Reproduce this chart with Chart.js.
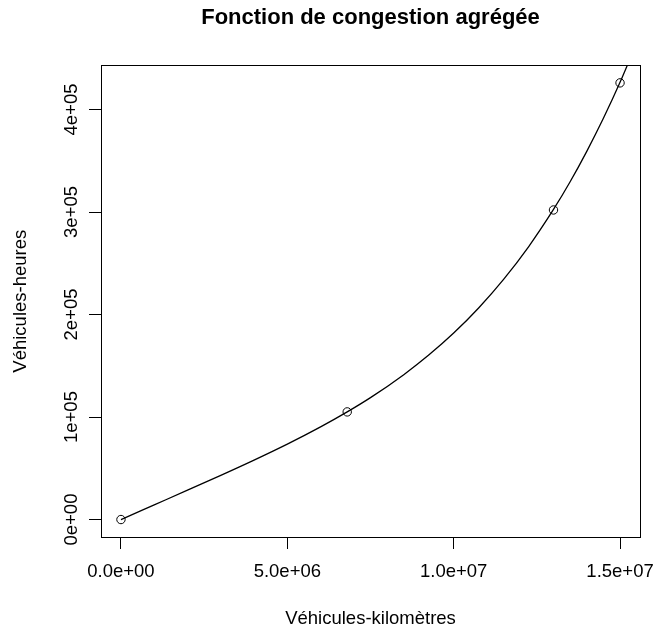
<!DOCTYPE html>
<html>
<head>
<meta charset="utf-8">
<title>Fonction de congestion agrégée</title>
<script src="https://cdn.jsdelivr.net/npm/chart.js@4/dist/chart.umd.min.js"></script>
<style>
    body { margin: 0; background: #fff; }
    #congestion-chart { display: block; }
</style>
</head>
<body>
<canvas id="congestion-chart" width="655" height="631"></canvas>
<script>
/*data*/
let pointsX = [0, 6.8e6, 1.3e7, 1.5e7];
let pointsY = [0, 105000, 302000, 426000];

// readings taken along the drawn curve
let curveX = [0, 1e6, 2e6, 3e6, 4e6, 5e6, 6e6, 6.8e6, 7.5e6, 8.5e6, 9.25e6, 1e7,
    1.075e7, 1.15e7, 1.225e7, 1.3e7, 1.35e7, 1.4e7, 1.45e7, 1.5e7, 1.56e7];
let curveY = [0, 14300, 28600, 43100, 58000, 73600, 90400, 105000, 118900, 141300, 160400, 181900,
    206400, 234300, 266100, 302500, 329500, 359200, 391400, 426500, 472900];

let xTicks = [0, 5e6, 1e7, 1.5e7];
let yTicks = [0, 1e5, 2e5, 3e5, 4e5];

let chartTitle = 'Fonction de congestion agrégée';
let xTitle = 'Véhicules-kilomètres';
let yTitle = 'Véhicules-heures';
/**/

let fontFamily = '"Liberation Sans", Arial, Helvetica, sans-serif';

// R-style range: data range widened by 4% on each side
function paddedRange(values) {
    let lo = Math.min(...values);
    let hi = Math.max(...values);
    let pad = (hi - lo) * 0.04;
    return [lo - pad, hi + pad];
}

function rExp(value, digits) {
    return value.toExponential(digits).replace(/e([+-])(\d)$/, 'e$10$2');
}

let xRange = paddedRange(pointsX);
let yRange = paddedRange(pointsY);

let frameBox = {
    id: 'frameBox',
    afterDraw(chart) {
        let a = chart.chartArea;
        let ctx = chart.ctx;
        ctx.save();
        ctx.strokeStyle = '#000';
        ctx.lineWidth = 1;
        ctx.strokeRect(Math.round(a.left) + 0.5, Math.round(a.top) + 0.5,
            Math.round(a.right - a.left), Math.round(a.bottom - a.top));
        ctx.restore();
    }
};

window.onload = function() {
    let canvas = document.getElementById('congestion-chart');

    new Chart(canvas, {
        type: 'scatter',
        data: {
            datasets: [{
                label: 'courbe',
                data: curveX.map((x, i) => ({x: x, y: curveY[i]})),
                showLine: true,
                cubicInterpolationMode: 'monotone',
                borderColor: '#000',
                borderWidth: 1.3,
                pointRadius: 0,
                fill: false
            }, {
                label: 'points',
                data: pointsX.map((x, i) => ({x: x, y: pointsY[i]})),
                showLine: false,
                pointStyle: 'circle',
                pointRadius: 4.2,
                pointBorderWidth: 1,
                pointBorderColor: '#000',
                pointBackgroundColor: 'rgba(0,0,0,0)'
            }]
        },
        options: {
            responsive: false,
            animation: false,
            devicePixelRatio: 1,
            layout: {
                autoPadding: false,
                padding: {left: 0, right: 15, top: 0, bottom: 0}
            },
            plugins: {
                legend: {display: false},
                tooltip: {enabled: false},
                title: {
                    display: true,
                    text: chartTitle,
                    fullSize: false,
                    color: '#000',
                    font: {family: fontFamily, size: 22, weight: 'bold'},
                    padding: {top: 5, bottom: 34}
                }
            },
            scales: {
                x: {
                    type: 'linear',
                    min: xRange[0],
                    max: xRange[1],
                    afterBuildTicks: scale => { scale.ticks = xTicks.map(v => ({value: v})); },
                    afterFit: scale => {
                        scale.height = 94;
                        scale.paddingLeft = 0;
                        scale.paddingRight = 0;
                    },
                    grid: {
                        drawOnChartArea: false,
                        drawTicks: true,
                        tickLength: 12,
                        tickColor: '#000',
                        tickWidth: 1
                    },
                    border: {display: true, color: '#000', width: 1},
                    ticks: {
                        color: '#000',
                        font: {family: fontFamily, size: 18.5},
                        padding: 12,
                        maxRotation: 0,
                        callback: v => rExp(v, 1)
                    },
                    title: {
                        display: true,
                        text: xTitle,
                        color: '#000',
                        font: {family: fontFamily, size: 18.5},
                        padding: {top: 0, bottom: 1}
                    }
                },
                y: {
                    type: 'linear',
                    min: yRange[0],
                    max: yRange[1],
                    afterBuildTicks: scale => { scale.ticks = yTicks.map(v => ({value: v})); },
                    afterFit: scale => {
                        scale.width = 101;
                        scale.paddingTop = 0;
                        scale.paddingBottom = 0;
                    },
                    grid: {
                        drawOnChartArea: false,
                        drawTicks: true,
                        tickLength: 12,
                        tickColor: '#000',
                        tickWidth: 1
                    },
                    border: {display: true, color: '#000', width: 1},
                    ticks: {
                        color: '#000',
                        font: {family: fontFamily, size: 18.5},
                        minRotation: 90,
                        maxRotation: 90,
                        crossAlign: 'center',
                        padding: -8.5,
                        callback: v => rExp(v, 0)
                    },
                    title: {
                        display: true,
                        text: yTitle,
                        color: '#000',
                        font: {family: fontFamily, size: 18.5},
                        padding: {top: 10, bottom: 0}
                    }
                }
            }
        },
        plugins: [frameBox]
    });
}
</script>
</body>
</html>
